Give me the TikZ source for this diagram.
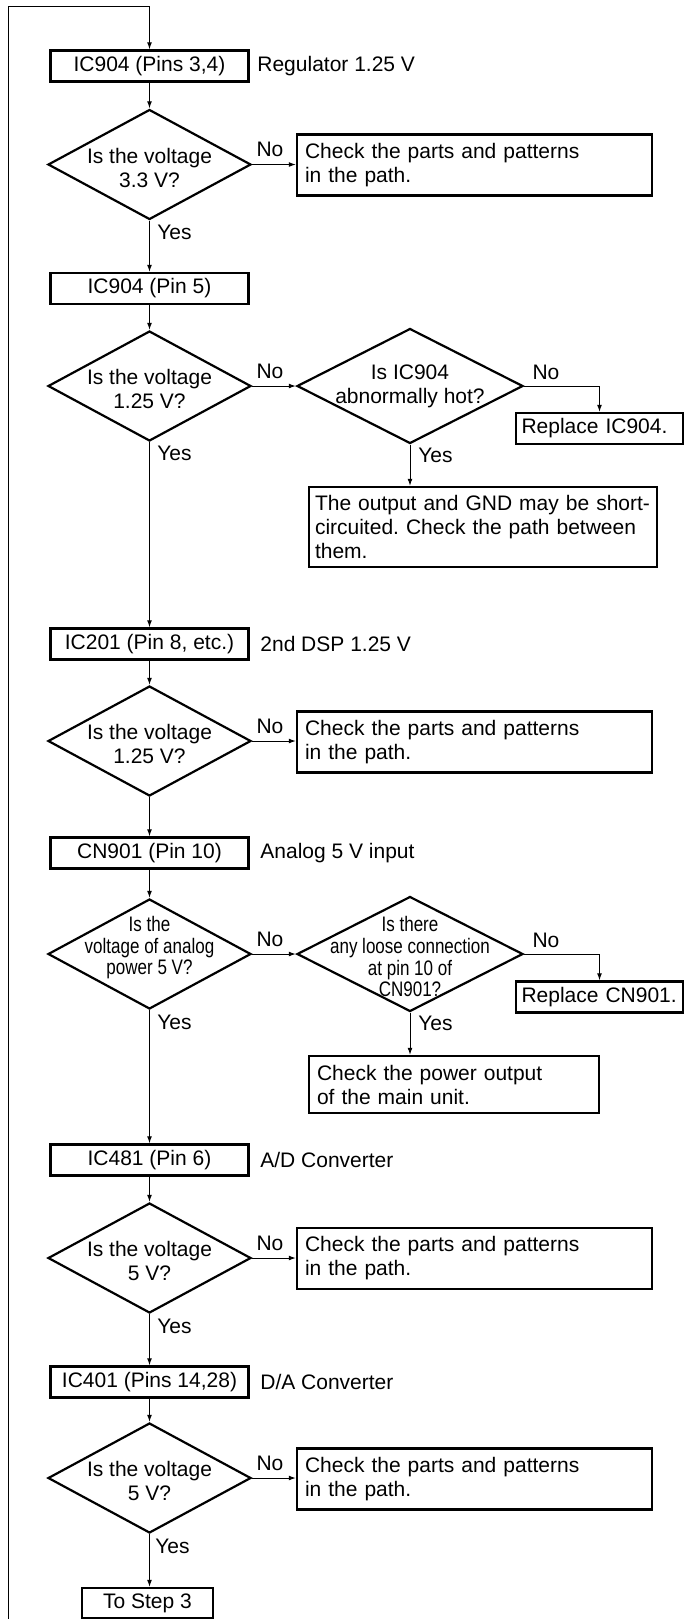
\documentclass[tikz,border=0pt]{standalone}
\usepackage{fontspec}
\setmainfont{Liberation Sans}
\newfontfamily\narrowfont[FakeStretch=0.81]{Liberation Sans}
\usetikzlibrary{shapes.geometric, arrows.meta}
\frenchspacing

% question text for the diamonds, lowered by #1
\newcommand{\qtext}[2][0pt]{\smash{\raisebox{#1}{\begin{tabular}{@{}c@{}}#2\end{tabular}}}}

\begin{document}
\begin{tikzpicture}[x=0.5pt, y=-0.5pt, font=\fontsize{10.5}{12}\selectfont,
    every node/.style={inner sep=0pt},
    pinbox/.style={draw, line width=1.1pt, minimum width=99pt, minimum height=15.5pt},
    checkbox/.style={draw, line width=1.1pt, text width=169.5pt, inner xsep=4pt, align=left, minimum height=30.5pt},
    replbox/.style={draw, line width=1.1pt, text width=78pt, inner xsep=2.75pt, align=left, minimum height=15.5pt},
    ask/.style={diamond, draw, line width=1.1pt, aspect=2, minimum width=101.5pt, minimum height=55pt},
    askwide/.style={ask, minimum width=113pt, minimum height=57.5pt},
    narrow/.style={font=\narrowfont\fontsize{10.5}{10.75}\selectfont},
    note/.style={anchor=west},
    flow/.style={line width=0.5pt, -{Latex[length=3.5pt, width=2.4pt]}}]

  \useasboundingbox (0,0) rectangle (689,1619);

  % IC904 regulator
  \node[pinbox] (b1) at (149.5,66) {IC904 (Pins 3,4)};
  \node[note] at (257,66) {Regulator 1.25 V};
  \node[ask] (d1) at (149.5,164.5) {\qtext[-5.7pt]{Is the voltage\\3.3 V?}};
  \node[checkbox] (c1) at (474.5,165) {Check the parts and patterns\\in the path.};
  \node at (270,149.5) {No};
  \node[note] at (157,232) {Yes};

  \node[pinbox] (b2) at (149.5,288.5) {IC904 (Pin 5)};
  \node[ask] (d2) at (149.5,386) {\qtext[-5.7pt]{Is the voltage\\1.25 V?}};
  \node[askwide] (hot) at (410,386) {\qtext[-3.2pt]{Is IC904\\abnormally hot?}};
  \node[replbox] (r1) at (599.5,428.5) {Replace IC904.};
  \node[checkbox, text width=168pt, inner xsep=3pt, minimum height=40pt] (out) at (483,527)
    {The output and GND may be short-\\circuited. Check the path between\\them.};
  \node at (270,371) {No};
  \node at (546,372) {No};
  \node[note] at (157,453) {Yes};
  \node[note] at (418,455) {Yes};

  % 2nd DSP
  \node[pinbox] (b3) at (149.5,644) {IC201 (Pin 8, etc.)};
  \node[note] at (260,644) {2nd DSP 1.25 V};
  \node[ask] (d3) at (149.5,741) {\qtext[-5.7pt]{Is the voltage\\1.25 V?}};
  \node[checkbox] (c3) at (474.5,742) {Check the parts and patterns\\in the path.};
  \node at (270,726) {No};

  % analog 5 V
  \node[pinbox] (b4) at (149.5,853) {CN901 (Pin 10)};
  \node[note] at (260,853) {Analog 5 V input};
  \node[ask, narrow] (d4) at (149.5,954) {\qtext[-0.2pt]{Is the\\voltage of analog\\power 5 V?}};
  \node[askwide, narrow] (loose) at (410,954) {\qtext[-5.6pt]{Is there\\any loose connection\\at pin 10 of\\CN901?}};
  \node[replbox] (r4) at (599.5,997) {Replace CN901.};
  \node[checkbox, text width=137pt, minimum height=28.5pt] (pwr) at (454,1084.5)
    {Check the power output\\of the main unit.};
  \node at (270,939) {No};
  \node at (546,940) {No};
  \node[note] at (157,1022) {Yes};
  \node[note] at (418,1023) {Yes};

  % A/D converter
  \node[pinbox] (b5) at (149.5,1160) {IC481 (Pin 6)};
  \node[note] at (260,1160) {A/D Converter};
  \node[ask] (d5) at (149.5,1258) {\qtext[-5.7pt]{Is the voltage\\5 V?}};
  \node[checkbox] (c5) at (474.5,1258.5) {Check the parts and patterns\\in the path.};
  \node at (270,1243) {No};
  \node[note] at (157,1326) {Yes};

  % D/A converter
  \node[pinbox] (b6) at (149.5,1382) {IC401 (Pins 14,28)};
  \node[note] at (260,1382) {D/A Converter};
  \node[ask] (d6) at (149.5,1478) {\qtext[-5.7pt]{Is the voltage\\5 V?}};
  \node[checkbox] (c6) at (474.5,1479) {Check the parts and patterns\\in the path.};
  \node at (270,1463) {No};
  \node[note] at (155,1546) {Yes};
  \node[pinbox, minimum width=65.5pt, minimum height=15pt] (step) at (147.5,1603) {To Step 3};

  % connectors
  \coordinate (back) at (8,1619);
  \coordinate (top) at (149.5,6);
  \draw[flow] (back) |- (top) -- (b1);
  \draw[flow] (b1) -- (d1);
  \draw[flow] (d1.east) -- (d1.east -| c1.west);
  \draw[flow] (d1) -- (b2);
  \draw[flow] (b2) -- (d2);
  \draw[flow] (d2) -- (hot);
  \draw[flow] (hot.east) -| (r1.north);
  \draw[flow] (hot.south) -- (hot.south |- out.north);
  \draw[flow] (d2) -- (b3);
  \draw[flow] (b3) -- (d3);
  \draw[flow] (d3.east) -- (d3.east -| c3.west);
  \draw[flow] (d3) -- (b4);
  \draw[flow] (b4) -- (d4);
  \draw[flow] (d4) -- (loose);
  \draw[flow] (loose.east) -| (r4.north);
  \draw[flow] (loose.south) -- (loose.south |- pwr.north);
  \draw[flow] (d4) -- (b5);
  \draw[flow] (b5) -- (d5);
  \draw[flow] (d5.east) -- (d5.east -| c5.west);
  \draw[flow] (d5) -- (b6);
  \draw[flow] (b6) -- (d6);
  \draw[flow] (d6.east) -- (d6.east -| c6.west);
  \draw[flow] (d6.south) -- (d6.south |- step.north);
\end{tikzpicture}
\end{document}
